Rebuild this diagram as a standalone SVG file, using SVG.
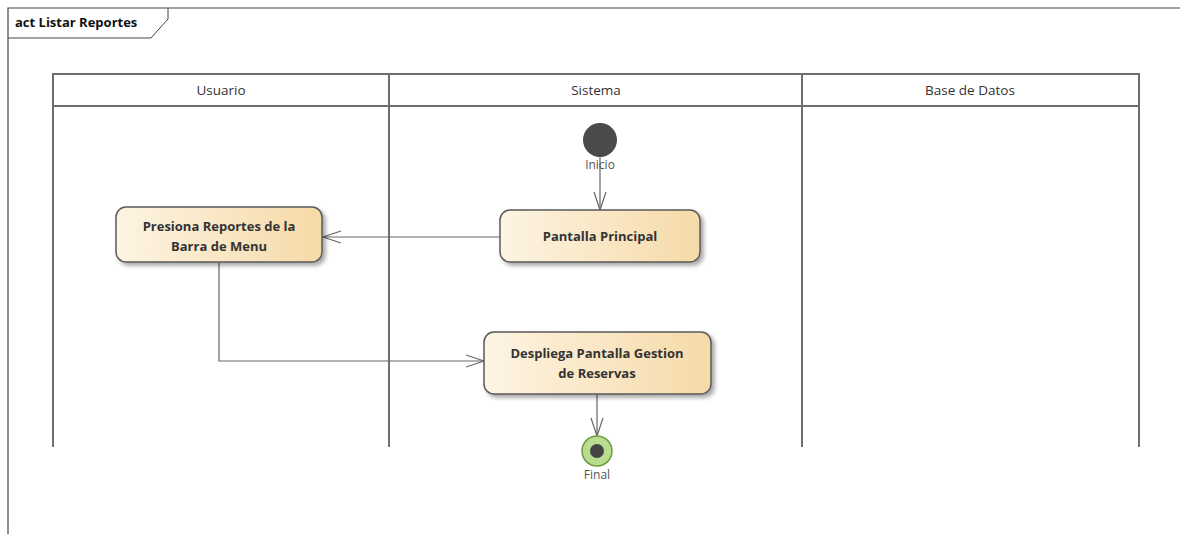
<svg xmlns="http://www.w3.org/2000/svg" width="1180" height="534" viewBox="0 0 1180 534">
<style>
.lane{fill:none;stroke:#6e6e6e;stroke-width:2}
.hdr{font-family:"Open Sans","Liberation Sans",sans-serif;font-size:13.5px;fill:#333;text-anchor:middle}
.act{fill:url(#g);stroke:#5a5a5a;stroke-width:1.5;filter:url(#sh)}
.lbl{font-family:"Open Sans","Liberation Sans",sans-serif;font-size:13px;font-weight:bold;fill:#333;text-anchor:middle}
.sm{font-family:"Open Sans","Liberation Sans",sans-serif;font-size:12px;fill:#555;text-anchor:middle}
.edge{fill:none;stroke:#666;stroke-width:1.2}
</style>
<defs>
<linearGradient id="g" x1="0" y1="0" x2="1" y2="0">
<stop offset="0" stop-color="#fdf4e3"/>
<stop offset="1" stop-color="#f6daa8"/>
</linearGradient>
<filter id="sh" x="-10%" y="-20%" width="125%" height="150%">
<feGaussianBlur in="SourceAlpha" stdDeviation="2"/>
<feOffset dx="3" dy="3"/>
<feComponentTransfer><feFuncA type="linear" slope="0.35"/></feComponentTransfer>
<feMerge><feMergeNode/><feMergeNode in="SourceGraphic"/></feMerge>
</filter>
<marker id="open" markerWidth="22" markerHeight="14" refX="20" refY="7" orient="auto" markerUnits="userSpaceOnUse">
<path d="M2,1 L20,7 L2,13" fill="none" stroke="#666" stroke-width="1.2"/>
</marker>
</defs>
<rect width="1180" height="534" fill="#fff"/>
<g id="frame">
<path d="M8,534 L8,8 L1180,8" fill="none" stroke="#444" stroke-width="1.2"/>
<path d="M8,38 L151,38 L168,19 L168,8" fill="none" stroke="#444" stroke-width="1"/>
<text x="15" y="27" font-family="Open Sans,Liberation Sans,sans-serif" font-size="13" font-weight="bold" fill="#111">act Listar Reportes</text>
</g>
<g id="lanes">
<rect class="lane" x="53" y="74" width="1086" height="32"/>
<path class="lane" d="M53,106 L53,447 M389,74 L389,447 M802,74 L802,447 M1139,106 L1139,447"/>
<text class="hdr" x="221" y="95">Usuario</text>
<text class="hdr" x="596" y="95">Sistema</text>
<text class="hdr" x="970" y="95">Base de Datos</text>
</g>
<g id="connectors">
<path class="edge" d="M600,157 L600,210" marker-end="url(#open)"/>
<path class="edge" d="M500,237 L323,237" marker-end="url(#open)"/>
<path class="edge" d="M219,263 L219,361 L484,361" marker-end="url(#open)"/>
<path class="edge" d="M597,395 L597,436" marker-end="url(#open)"/>
</g>
<g id="inicio">
<circle cx="600" cy="140" r="17" fill="#4a4a4a"/>
<text class="sm" x="600" y="169">Inicio</text>
</g>
<g id="pantalla-principal">
<rect class="act" x="500" y="210" width="200" height="52" rx="10"/>
<text class="lbl" x="600" y="241">Pantalla Principal</text>
</g>
<g id="presiona-reportes">
<rect class="act" x="116" y="207" width="206" height="55" rx="10"/>
<text class="lbl" x="219" y="231">Presiona Reportes de la</text>
<text class="lbl" x="219" y="251">Barra de Menu</text>
</g>
<g id="despliega-pantalla">
<rect class="act" x="484" y="332" width="227" height="62" rx="10"/>
<text class="lbl" x="597" y="358">Despliega Pantalla Gestion</text>
<text class="lbl" x="597" y="378">de Reservas</text>
</g>
<g id="final">
<circle cx="597" cy="451" r="15" fill="#b9dc8e" stroke="#6f9a45" stroke-width="1.5"/>
<circle cx="597" cy="451" r="7" fill="#444"/>
<text class="sm" x="597" y="479">Final</text>
</g>
</svg>
